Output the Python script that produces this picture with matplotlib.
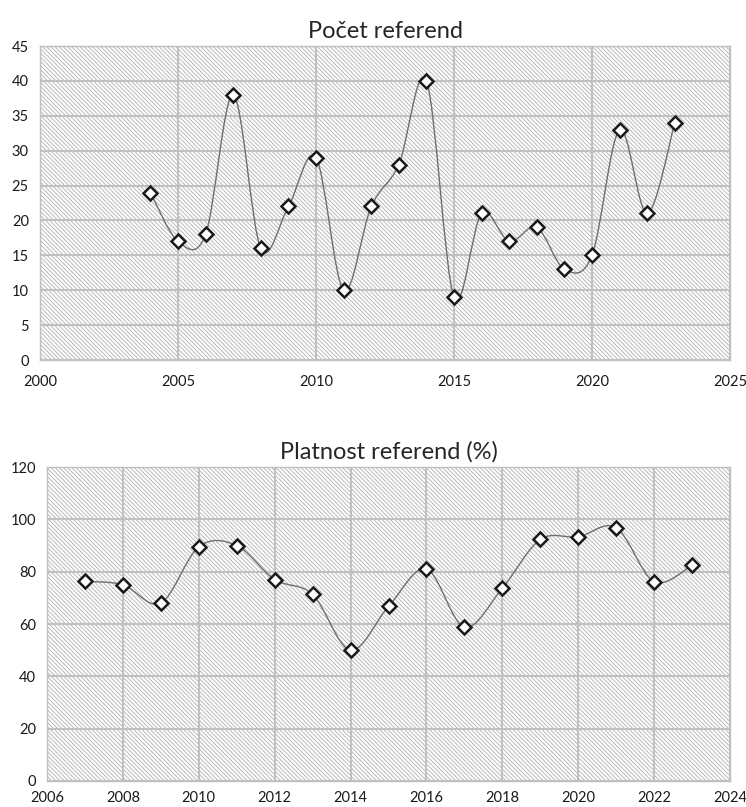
import matplotlib
matplotlib.use("Agg")
import matplotlib.pyplot as plt
from matplotlib.path import Path
from matplotlib.patches import PathPatch, Rectangle
import numpy as np

plt.rcParams['font.family'] = ['Lato', 'DejaVu Sans']
plt.rcParams['hatch.linewidth'] = 0.7

years_count = [2004, 2005, 2006, 2007, 2008, 2009, 2010, 2011, 2012, 2013,
               2014, 2015, 2016, 2017, 2018, 2019, 2020, 2021, 2022, 2023]
counts = [24, 17, 18, 38, 16, 22, 29, 10, 22, 28,
          40, 9, 21, 17, 19, 13, 15, 33, 21, 34]

years_valid = [2007, 2008, 2009, 2010, 2011, 2012, 2013, 2014, 2015,
               2016, 2017, 2018, 2019, 2020, 2021, 2022, 2023]
validity = [76.3, 75.0, 68.0, 89.5, 90.0, 77.0, 71.3, 50.0, 66.7,
            81.0, 58.8, 73.7, 92.3, 93.3, 96.8, 76.2, 82.4]

title_top = "Počet referend"
title_bottom = "Platnost referend (%)"


def smooth_path(x, y):
    pts = np.column_stack([x, y]).astype(float)
    n = len(pts)
    verts = [pts[0]]
    codes = [Path.MOVETO]
    for i in range(n - 1):
        p0 = pts[i - 1] if i > 0 else pts[i]
        p1 = pts[i]
        p2 = pts[i + 1]
        p3 = pts[i + 2] if i + 2 < n else pts[i + 1]
        c1 = p1 + (p2 - p0) / 6.0
        c2 = p2 - (p3 - p1) / 6.0
        verts += [c1, c2, p2]
        codes += [Path.CURVE4] * 3
    return Path(verts, codes)


def draw(ax, x, y, xlim, xstep, ylim, ystep, title, xpad):
    ax.set_xlim(*xlim)
    ax.set_ylim(*ylim)
    ax.add_patch(Rectangle((0, 0), 1, 1, transform=ax.transAxes,
                           facecolor='white', edgecolor='#bababa',
                           linewidth=0, hatch='\\' * 8, zorder=0.5))
    ax.set_xticks(np.arange(xlim[0], xlim[1] + 0.1, xstep))
    ax.set_yticks(np.arange(ylim[0], ylim[1] + 0.1, ystep))
    ax.grid(True, color='#c0c0c0', linewidth=1.5, zorder=1)
    ax.set_axisbelow(False)
    for s in ax.spines.values():
        s.set_color('#c0c0c0')
        s.set_linewidth(1.0)
    ax.tick_params(axis='y', length=0, labelsize=10.5, colors='#1a1a1a', pad=8)
    ax.tick_params(axis='x', length=0, labelsize=10.5, colors='#1a1a1a', pad=xpad)
    ax.add_patch(PathPatch(smooth_path(x, y), facecolor='none',
                           edgecolor='#6e6e6e', linewidth=1.0, zorder=3))
    ax.plot(x, y, linestyle='none', marker='D', markersize=7,
            markerfacecolor='white', markeredgecolor='#1a1a1a',
            markeredgewidth=1.8, zorder=4)
    ax.set_title(title, fontsize=17, pad=6, color='#262626')


fig = plt.figure(figsize=(7.46, 8.07), dpi=100)
ax1 = fig.add_axes([40 / 746, 1 - 360 / 807, 690 / 746, 314 / 807])
ax2 = fig.add_axes([47 / 746, 1 - 781 / 807, 683 / 746, 314 / 807])

draw(ax1, years_count, counts, (2000, 2025), 5, (0, 45), 5, title_top, 11)
draw(ax2, years_valid, validity, (2006, 2024), 2, (0, 120), 20, title_bottom, 7)

fig.savefig("out.png", dpi=100)
